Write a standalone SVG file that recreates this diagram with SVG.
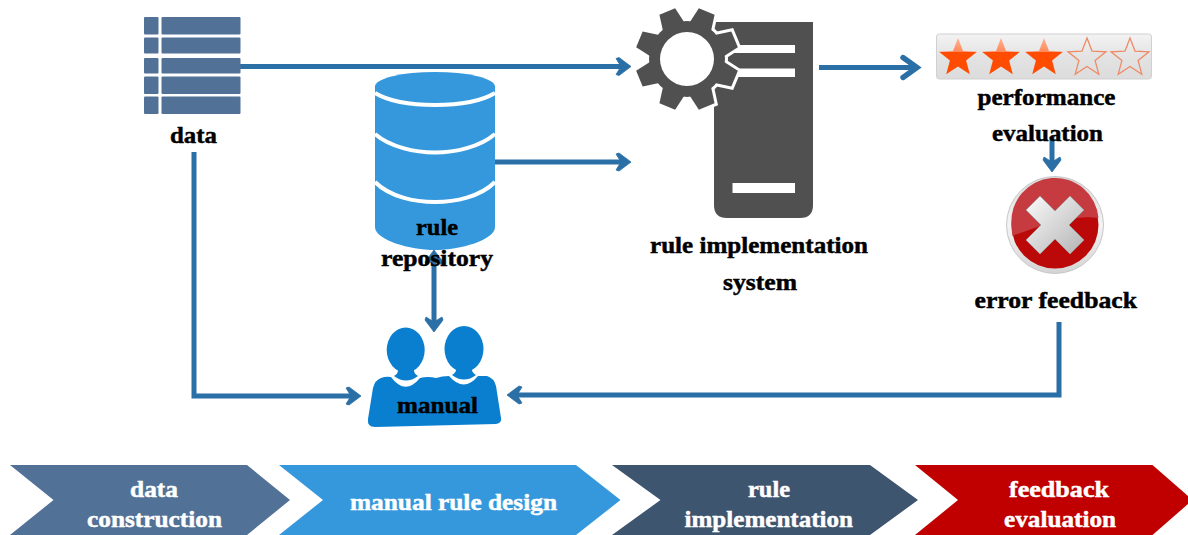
<svg xmlns="http://www.w3.org/2000/svg" width="1188" height="535" viewBox="0 0 1188 535">
<style>
text{font-family:"Liberation Serif","Times New Roman",serif;font-weight:700;font-size:23px;stroke-width:.45px}
.k{fill:#000;stroke:#000}
.w{fill:#fff;stroke:#fff}
.c{fill:none;stroke:#2a6fa5;stroke-width:5;marker-end:url(#a)}
.t{fill:#527196}
.s{fill:#fff}
.on{fill:url(#st)}
.off{fill:none;stroke:#ef8a66;stroke-width:1.3}
.h{fill:#0a7fcf}
</style>
<defs>
<marker id="a" markerUnits="userSpaceOnUse" markerWidth="26" markerHeight="26" refX="14" refY="13" orient="auto-start-reverse" viewBox="0 0 26 26"><path d="M5,5 L8,4 L20,13 L8,22 L5,21 L10,13Z" fill="#2a6fa5" stroke="#2a6fa5" stroke-width=".8" stroke-linejoin="round"/></marker>
<marker id="b" markerUnits="userSpaceOnUse" markerWidth="32" markerHeight="32" refX="18" refY="16" orient="auto" viewBox="0 0 32 32"><path d="M7,6 L21,16 L7,26" fill="none" stroke="#2a6fa5" stroke-width="5.400" stroke-linecap="round"/></marker>
<linearGradient id="st" x1="0" y1="0" x2="0" y2="1"><stop offset="0" stop-color="#ffb294"/><stop offset=".38" stop-color="#ff8a5c"/><stop offset=".39" stop-color="#ff4c00"/><stop offset="1" stop-color="#ff4c00"/></linearGradient>
<linearGradient id="bar" x1="0" y1="0" x2="0" y2="1"><stop offset="0" stop-color="#f3f3f3"/><stop offset=".5" stop-color="#e3e3e3"/><stop offset="1" stop-color="#dcdcdc"/></linearGradient>
<linearGradient id="ring" x1="0" y1="0" x2="0" y2="1"><stop offset="0" stop-color="#d8d8d8"/><stop offset=".5" stop-color="#f4f4f4"/><stop offset="1" stop-color="#d4d4d4"/></linearGradient>
<linearGradient id="x" x1="0" y1="0" x2="1" y2="1"><stop offset="0" stop-color="#fafafa"/><stop offset="1" stop-color="#b4b4b4"/></linearGradient>
<path id="star" d="M0,-20 L5,-6.9 L19,-6.2 L8.1,2.6 L11.8,16.2 L0,8.5 L-11.800,16.200 L-8.100,2.600 L-19,-6.200 L-5,-6.900Z"/>
<path id="tooth" d="M-11.500,-35 L-8.500,-51.500 L8.500,-51.500 L11.500,-35Z"/>
<g id="gearShape"><circle r="38"/><use href="#tooth" transform="rotate(22.5)"/><use href="#tooth" transform="rotate(67.5)"/><use href="#tooth" transform="rotate(112.5)"/><use href="#tooth" transform="rotate(157.5)"/><use href="#tooth" transform="rotate(202.5)"/><use href="#tooth" transform="rotate(247.5)"/><use href="#tooth" transform="rotate(292.5)"/><use href="#tooth" transform="rotate(337.5)"/></g>
</defs>
<rect width="1188" height="535" fill="#fff"/>
<g id="connectors">
<path class="c" d="M240,66.500H625"/>
<path class="c" d="M495,162H625"/>
<path d="M819,67.500H914" fill="none" stroke="#2a6fa5" stroke-width="5" marker-end="url(#b)"/>
<path class="c" d="M1052,137V166"/>
<path class="c" d="M194,152V396H355"/>
<path class="c" d="M1059,322V395H513"/>
<path class="c" d="M434,256V326" style="marker-start:url(#a)"/>
</g>
<g id="node-data">
<rect class="t" x="144" y="17" width="14.500" height="17.500" rx="1"/><rect class="t" x="161.500" y="17" width="79" height="17.500" rx="1"/>
<rect class="t" x="144" y="37.500" width="14.500" height="16" rx="1"/><rect class="t" x="161.500" y="37.500" width="79" height="16" rx="1"/>
<rect class="t" x="144" y="58" width="14.500" height="15.500" rx="1"/><rect class="t" x="161.500" y="58" width="79" height="15.500" rx="1"/>
<rect class="t" x="144" y="76.500" width="14.500" height="17.500" rx="1"/><rect class="t" x="161.500" y="76.500" width="79" height="17.500" rx="1"/>
<rect class="t" x="144" y="96.500" width="14.500" height="17.500" rx="1"/><rect class="t" x="161.500" y="96.500" width="79" height="17.500" rx="1"/>
<text class="k" x="170" y="143" textLength="47" lengthAdjust="spacingAndGlyphs">data</text>
</g>
<g id="node-repository">
<path d="M375,87 V227 C375,240 410,250 435,250 C460,250 495,240 495,227 V87Z" fill="#3598dc"/>
<ellipse cx="435" cy="86.500" rx="60" ry="14.500" fill="#3598dc"/>
<g fill="none" stroke="#fff" stroke-width="4"><path d="M375,93 C390,102 415,105 435,105 C455,105 480,102 495,93"/><path d="M375,134 C390,147 415,152.500 435,152.500 C455,152.500 480,147 495,134"/><path d="M375,182 C390,197 415,202 435,202 C455,202 480,197 495,182"/></g>
<text class="k" x="416" y="235" textLength="42" lengthAdjust="spacingAndGlyphs">rule</text>
<text class="k" x="381" y="266" textLength="112" lengthAdjust="spacingAndGlyphs">repository</text>
</g>
<g id="node-system">
<path d="M714,22 H813 V205 Q813,218 800,218 H727 Q714,218 714,205Z" fill="#505050"/>
<rect class="s" x="725" y="45" width="70" height="8"/><rect class="s" x="725" y="68.500" width="70" height="8.500"/><rect class="s" x="732.500" y="183" width="62.500" height="10"/>
<use href="#gearShape" transform="translate(687,59)" fill="#fff" stroke="#fff" stroke-width="6"/>
<use href="#gearShape" transform="translate(687,59)" fill="#505050"/>
<circle cx="687" cy="59" r="27" fill="#fff"/>
<text class="k" x="650" y="253" textLength="218" lengthAdjust="spacingAndGlyphs">rule implementation</text>
<text class="k" x="723" y="290" textLength="74" lengthAdjust="spacingAndGlyphs">system</text>
</g>
<g id="node-performance">
<rect x="936.500" y="34" width="215" height="45" rx="3" fill="url(#bar)" stroke="#d0d0d0"/>
<use href="#star" class="on" transform="translate(958,58)"/><use href="#star" class="on" transform="translate(1001,58)"/><use href="#star" class="on" transform="translate(1044,58)"/><use href="#star" class="off" transform="translate(1087,58)"/><use href="#star" class="off" transform="translate(1130,58)"/>
<text class="k" x="977.500" y="105" textLength="138" lengthAdjust="spacingAndGlyphs">performance</text>
<text class="k" x="992" y="140.500" textLength="111" lengthAdjust="spacingAndGlyphs">evaluation</text>
</g>
<g id="node-error">
<circle cx="1055" cy="225" r="48.500" fill="url(#ring)" stroke="#c8c8c8"/>
<circle cx="1055" cy="225" r="43.500" fill="#bb0808"/>
<path d="M1011.500,225 A43.500,43.500 0 0 1 1098.500,218 C1075,214 1040,225 1012.500,236 Q1011.500,230 1011.500,225Z" fill="#c53b3f"/>
<path d="M1055,211 L1070,196 L1084,210 L1069,225 L1084,240 L1070,254 L1055,239 L1040,254 L1026,240 L1041,225 L1026,210 L1040,196Z" fill="url(#x)" stroke="#9a9a9a" stroke-width=".8"/>
<text class="k" x="974.500" y="308" textLength="162.500" lengthAdjust="spacingAndGlyphs">error feedback</text>
</g>
<g id="node-manual">
<ellipse class="h" cx="405.700" cy="350" rx="19" ry="22.500"/><ellipse class="h" cx="464" cy="349" rx="19.500" ry="23"/>
<path class="h" d="M398,368 Q399,373 394,376 Q406,385 418,376 Q413,373 414,368Z"/><path class="h" d="M456,368 Q457,372 452,375 Q464,384 476,375 Q471,372 472,368Z"/>
<path class="h" d="M381,378 Q386,376 391,377 Q405,396 420,378 Q428,376 436,378 Q442,376 449,376 Q464,393 478,376 L487,376 Q494,378 496,386 L501,418 Q502,423 496,424 L375,427 Q367,427 368,419 L373,388 Q375,380 381,378Z"/>
<text class="k" x="397" y="413" textLength="81" lengthAdjust="spacingAndGlyphs">manual</text>
</g>
<g id="stage-data">
<path d="M10,465 H247 L290,500 L247,535 H10 L53.500,500Z" fill="#527196"/>
<text class="w" x="130" y="497" textLength="48" lengthAdjust="spacingAndGlyphs">data</text>
<text class="w" x="87" y="527" textLength="135" lengthAdjust="spacingAndGlyphs">construction</text>
</g>
<g id="stage-design">
<path d="M279,465 H576 L620.500,500 L576,535 H279 L323,500Z" fill="#3598dc"/>
<text class="w" x="350" y="510" textLength="207" lengthAdjust="spacingAndGlyphs">manual rule design</text>
</g>
<g id="stage-implementation">
<path d="M612,465 H870 L918,500 L870,535 H612 L660.500,500Z" fill="#3d556f"/>
<text class="w" x="748" y="497" textLength="42" lengthAdjust="spacingAndGlyphs">rule</text>
<text class="w" x="684.500" y="527" textLength="168.500" lengthAdjust="spacingAndGlyphs">implementation</text>
</g>
<g id="stage-feedback">
<path d="M915,465 H1152.500 L1188,496 V504 L1152.500,535 H915 L958,500Z" fill="#c00000"/>
<text class="w" x="1009" y="497" textLength="100" lengthAdjust="spacingAndGlyphs">feedback</text>
<text class="w" x="1004" y="527" textLength="112" lengthAdjust="spacingAndGlyphs">evaluation</text>
</g>
</svg>
